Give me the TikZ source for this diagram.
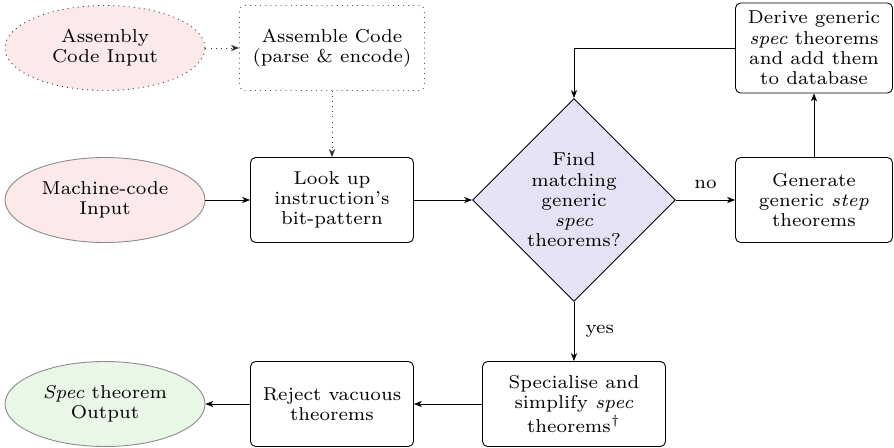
\documentclass[tikz,border=0pt]{standalone}
\usetikzlibrary{shapes.geometric,arrows.meta}
\newcommand\upx{0.392pt}
\definecolor{inred}{RGB}{252,233,233}
\definecolor{outgreen}{RGB}{232,247,230}
\definecolor{decblue}{RGB}{227,227,245}
\begin{document}
\begin{tikzpicture}[x=\upx,y=-\upx,
  every node/.style={font=\fontsize{7.3pt}{7.95pt}\selectfont},
  conn/.style={line width=0.35pt,-{Stealth[length=3.1pt,width=2.4pt,inset=0.9pt]}},
  dotline/.style={dash pattern=on 0.4pt off 1.6pt},
  io/.style={ellipse,draw=black!45,line width=0.35pt,inner sep=0pt,
    minimum width=200*\upx,minimum height=85*\upx,align=center},
  proc/.style={rectangle,draw,line width=0.35pt,rounded corners=2pt,inner sep=0pt,
    minimum height=85*\upx,align=center},
  decision/.style={diamond,draw,line width=0.35pt,fill=decblue,inner sep=0pt,
    aspect=1,minimum width=203*\upx,minimum height=203*\upx,align=center}]
\useasboundingbox (0,0) rectangle (894,448);

% inputs and outputs
\node[io,fill=inred,draw=black!75,dotline] (asm) at (105,48) {Assembly\\Code Input};
\node[io,fill=inred] (mc) at (105,200) {Machine-code\\Input};
\node[io,fill=outgreen] (out) at (105,404) {\textit{Spec} theorem\\Output};

% processing steps
\node[proc,draw=black!65,dotline,minimum width=185*\upx] (asmcode) at (332,48) {Assemble Code\\(parse \& encode)};
\node[proc,minimum width=163*\upx] (lookup) at (332,200) {Look up\\instruction's\\bit-pattern};
\node[decision] (find) at (574,200) {Find\\matching\\generic\\\textit{spec}\\theorems?};
\node[proc,minimum width=157*\upx] (gen) at (814,200) {Generate\\generic \textit{step}\\theorems};
\node[proc,minimum width=157*\upx,minimum height=90*\upx] (derive) at (814,48) {Derive generic\\\textit{spec} theorems\\and add them\\to database};
\node[proc,minimum width=183*\upx] (spec) at (574,404) {Specialise and\\simplify \textit{spec}\\theorems\textsuperscript{\textdagger}};
\node[proc,minimum width=163*\upx] (reject) at (332,404) {Reject vacuous\\theorems};

% connectors
\draw[conn,dotline,draw=black!80] (asm) -- (asmcode);
\draw[conn,dotline,draw=black!80] (asmcode) -- (lookup);
\draw[conn] (mc) -- (lookup);
\draw[conn] (lookup) -- (find);
\draw[conn] (find) -- node[above,yshift=1pt] {no} (gen);
\draw[conn] (gen) -- (derive);
\draw[conn] (derive.west) -| (find.north);
\draw[conn] (find) -- node[right,xshift=1pt] {yes} (spec);
\draw[conn] (spec) -- (reject);
\draw[conn] (reject) -- (out);
\end{tikzpicture}
\end{document}
